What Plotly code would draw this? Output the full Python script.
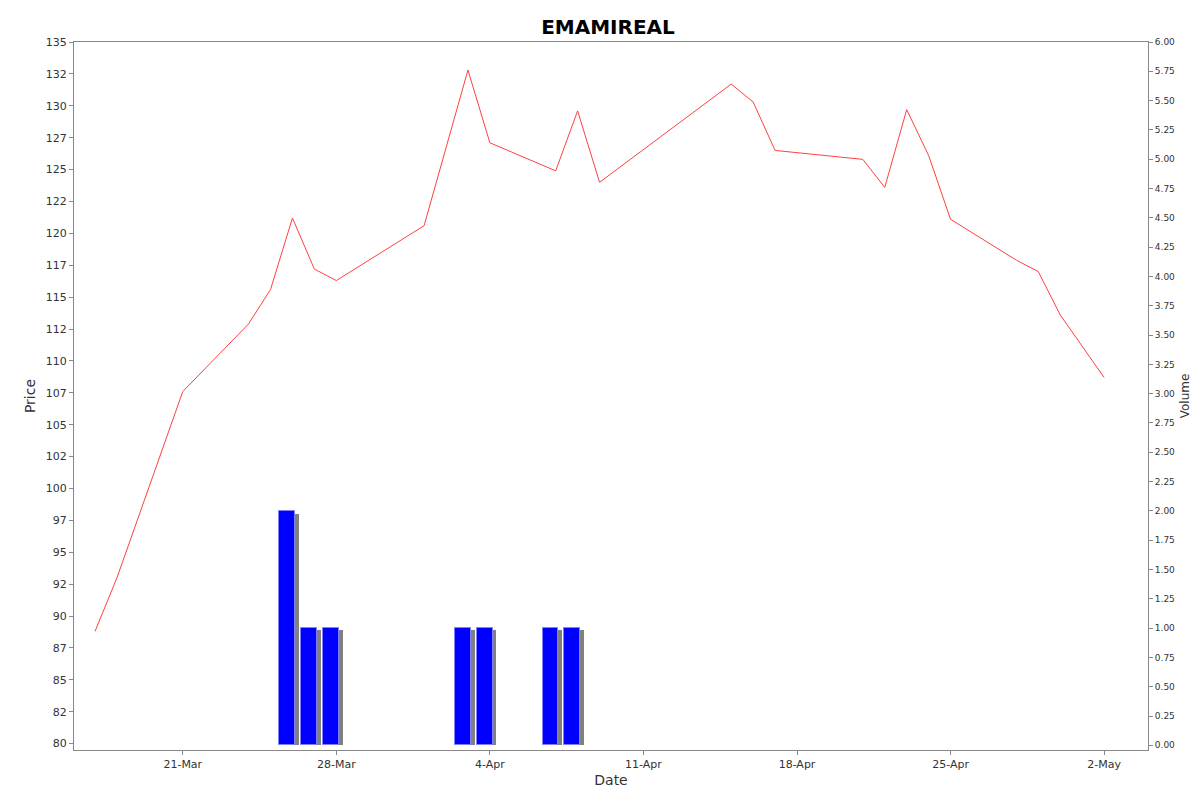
import plotly.graph_objects as go

# price series (daily close)
dates = ["2025-03-17", "2025-03-18", "2025-03-21", "2025-03-24", "2025-03-25", "2025-03-26",
         "2025-03-27", "2025-03-28", "2025-04-01", "2025-04-03", "2025-04-04", "2025-04-07",
         "2025-04-08", "2025-04-09", "2025-04-15", "2025-04-16", "2025-04-17", "2025-04-21",
         "2025-04-22", "2025-04-23", "2025-04-24", "2025-04-25", "2025-04-28", "2025-04-29",
         "2025-04-30", "2025-05-02"]
prices = [88.8, 93.0, 107.6, 112.9, 115.6, 121.2, 117.2, 116.3, 120.6, 132.8, 127.1, 124.9,
          129.6, 124.0, 131.7, 130.3, 126.5, 125.8, 123.6, 129.7, 126.1, 121.1, 117.9, 117.0,
          113.6, 108.7]

vol_dates = ["2025-03-26", "2025-03-27", "2025-03-28", "2025-04-03", "2025-04-04",
             "2025-04-07", "2025-04-08"]
volumes = [2, 1, 1, 1, 1, 1, 1]

DAY = 86400000
price_ticks = [80 + 2.5 * i for i in range(23)]
price_labels = [f"{v:.0f}" if v % 1 == 0 else f"{int(v)}" for v in price_ticks]
vol_ticks = [0.25 * i for i in range(25)]

fig = go.Figure()
# bar shadows
fig.add_trace(go.Bar(
    x=vol_dates, y=[v * 0.985 for v in volumes], yaxis="y2",
    width=0.72 * DAY, offset=-0.42 * DAY,
    marker=dict(color="#808080", line=dict(width=0)), showlegend=False
))
fig.add_trace(go.Bar(
    x=vol_dates, y=volumes, yaxis="y2",
    width=0.72 * DAY, offset=-0.6 * DAY,
    marker=dict(color="#0000ff", line=dict(color="#8080ff", width=1)), showlegend=False
))
fig.add_trace(go.Scatter(
    x=dates, y=prices, mode="lines",
    line=dict(color="#ff4040", width=1), showlegend=False
))

fig.update_layout(
    title=dict(text="<b>EMAMIREAL</b>", x=0.5, y=0.985, yanchor="top",
               font=dict(size=20, color="black")),
    width=1200, height=792, barmode="overlay", bargap=0,
    plot_bgcolor="white", paper_bgcolor="white",
    margin=dict(l=66, r=60, t=34, b=50),
    font=dict(family="DejaVu Sans", size=11, color="#333"),
    xaxis=dict(
        type="date", range=["2025-03-16 01:00", "2025-05-04 00:00"],
        tickvals=["2025-03-21", "2025-03-28", "2025-04-04", "2025-04-11",
                  "2025-04-18", "2025-04-25", "2025-05-02"],
        tickformat="%-d-%b", ticks="outside", ticklen=4, tickcolor="#888",
        showgrid=False, showline=True, linecolor="#888", mirror=True,
        title=dict(text="Date", font=dict(size=14), standoff=4),
    ),
    yaxis=dict(
        range=[79.5, 135], tickvals=price_ticks, ticktext=price_labels,
        ticks="outside", ticklen=4, tickcolor="#888",
        showgrid=False, showline=True, linecolor="#888", mirror=True, zeroline=False,
        title=dict(text="Price", font=dict(size=14), standoff=6),
    ),
    yaxis2=dict(
        overlaying="y", side="right", range=[-0.04, 6], tickvals=vol_ticks,
        tickformat=".2f", ticks="outside", ticklen=4, tickcolor="#888",
        tickfont=dict(size=9), showgrid=False, zeroline=False,
        title=dict(text="Volume", font=dict(size=12), standoff=6),
    ),
)

fig.write_html("out.html")
